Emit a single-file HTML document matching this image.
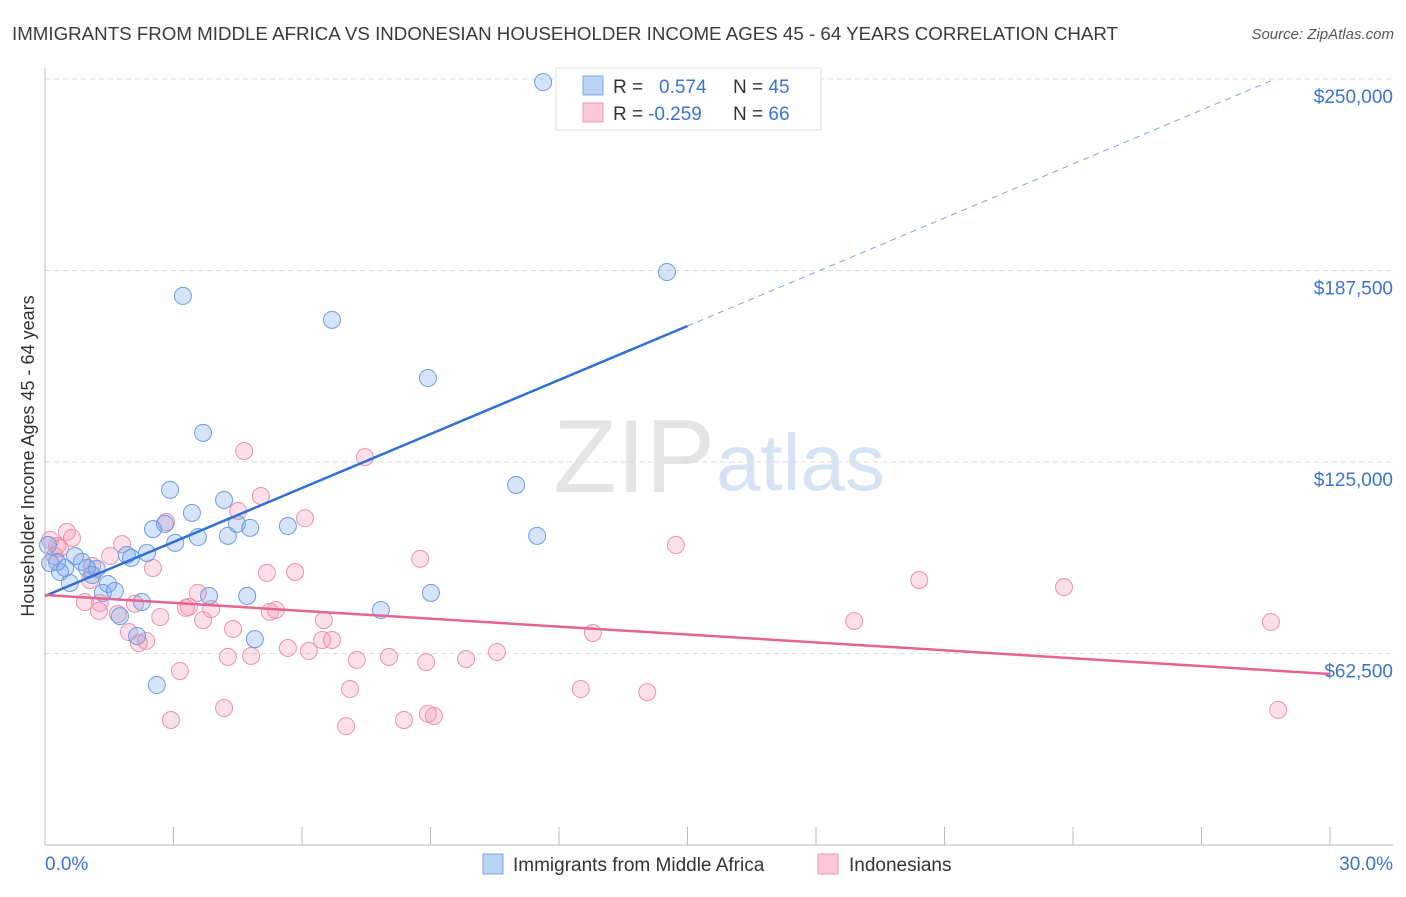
<!DOCTYPE html>
<html><head><meta charset="utf-8"><style>
body{margin:0;background:#fff;font-family:"Liberation Sans",sans-serif}
svg text{font-family:"Liberation Sans",sans-serif}
</style></head><body>
<svg id="c" width="1406" height="892">
<text x="12" y="40" font-size="18" fill="#3a3a3a" textLength="1106" lengthAdjust="spacingAndGlyphs">IMMIGRANTS FROM MIDDLE AFRICA VS INDONESIAN HOUSEHOLDER INCOME AGES 45 - 64 YEARS CORRELATION CHART</text>
<text x="1394" y="39" font-size="15" fill="#555" text-anchor="end" font-style="italic">Source: ZipAtlas.com</text>
<text x="715" y="492" font-size="104" fill="#e4e4e4" text-anchor="end" font-family="Liberation Serif">ZIP</text>
<text x="716" y="490" font-size="80" fill="#d6e3f5">atlas</text>
<g id="grid"></g><g id="axes"></g><g id="pts"></g><g id="lines"></g>
<text transform="translate(34,456) rotate(-90)" font-size="18" fill="#333" text-anchor="middle">Householder Income Ages 45 - 64 years</text>
<g>
<rect x="556" y="68" width="265" height="62" fill="#fff" stroke="#ddd"/>
<rect x="583" y="76" width="20" height="19" fill="#b9d3f5" stroke="#7aa7e6"/>
<rect x="583" y="103" width="20" height="19" fill="#fcc8d7" stroke="#ec9ab3"/>
<text x="613" y="93" font-size="19" fill="#333">R = <tspan x="659" fill="#3b73d1">0.574</tspan><tspan x="733" fill="#333">N = </tspan><tspan fill="#3b73d1">45</tspan></text>
<text x="613" y="120" font-size="19" fill="#333">R = <tspan x="648" fill="#3b73d1">-0.259</tspan><tspan x="733" fill="#333">N = </tspan><tspan fill="#3b73d1">66</tspan></text>
</g>
<g>
<rect x="483" y="854" width="20" height="20" fill="#b9d3f5" stroke="#7aa7e6"/>
<text x="513" y="871" font-size="19" fill="#333">Immigrants from Middle Africa</text>
<rect x="818" y="854" width="20" height="20" fill="#fcc8d7" stroke="#ec9ab3"/>
<text x="849" y="871" font-size="19" fill="#333">Indonesians</text>
</g>
</svg>
<script>
const blueX=[11.63,14.52,3.22,6.70,8.94,3.69,2.92,11.00,11.49,4.18,3.43,2.80,2.52,4.48,4.79,5.67,3.04,3.57,4.27,2.38,1.91,2.01,0.70,0.86,1.21,0.47,0.28,0.35,0.58,1.47,1.35,1.63,2.26,4.72,3.83,9.01,7.84,1.75,2.15,4.90,2.61,0.98,0.12,0.07,1.10];
const blueY=[249.0,187.0,179.2,171.4,152.4,134.5,115.9,117.5,100.9,112.6,108.4,104.8,103.1,104.8,103.5,104.1,98.6,100.5,100.9,95.3,94.7,93.7,94.3,92.4,90.1,90.4,92.4,89.1,85.5,85.2,82.3,82.9,79.3,81.3,81.3,82.3,76.7,74.7,68.2,67.2,52.2,90.4,92.0,97.9,88.1];
const pinkX=[4.65,7.47,5.04,6.07,2.83,4.51,0.51,0.63,0.28,0.12,0.23,0.35,1.52,1.80,14.73,8.76,2.52,5.18,5.84,20.41,23.79,1.05,3.57,0.93,1.28,2.10,3.29,3.88,3.36,1.26,2.69,5.39,5.25,1.70,3.69,6.51,4.39,18.89,28.62,12.79,1.96,2.36,2.19,6.47,6.70,5.67,6.16,10.55,4.27,4.81,7.28,8.03,8.90,9.83,3.15,7.12,12.51,14.06,4.18,2.94,8.38,8.94,9.08,7.03,28.79,1.10];
const pinkY=[128.6,126.6,113.9,106.7,105.4,109.0,102.2,100.2,97.6,99.6,94.3,96.9,94.3,98.2,97.9,93.4,90.4,88.8,89.1,86.5,84.2,86.5,82.3,79.3,79.0,78.7,77.4,77.0,77.7,76.4,74.4,76.7,76.1,75.4,73.4,73.4,70.5,73.1,72.8,69.2,69.5,66.6,65.9,66.9,66.9,64.3,63.3,63.0,61.4,61.7,60.4,61.4,59.7,60.7,56.8,50.9,50.9,49.9,44.7,40.8,40.8,42.8,42.1,38.8,44.1,91.1];
const yTicks=[62.5,125,187.5,250];
const yTickLabels=["$62,500","$125,000","$187,500","$250,000"];
const xTicks=[0,3,6,9,12,15,18,21,24,27,30];
const blueTrend=[81.27,5.874];
const pinkTrend=[81.59,-0.8594];
const NS='http://www.w3.org/2000/svg';
const xs=v=>45+v*(1285/30);
const ys=v=>845-v*(191.5/62.5);
function mk(t,a,p){const e=document.createElementNS(NS,t);for(const k in a)e.setAttribute(k,a[k]);document.getElementById(p).appendChild(e);return e;}
yTicks.forEach((v,i)=>{
 const g=mk('line',{x1:45,x2:1393,y1:ys(v),y2:ys(v),stroke:'#ddd','stroke-dasharray':'5,4'},'grid');
 
 
 const t=mk('text',{x:1393,y:ys(v)+24,'font-size':19,fill:'#3b73d1','text-anchor':'end'},'grid');
 t.textContent=yTickLabels[i];
 
 
});
let a=mk('line',{x1:45,x2:45,y1:68,y2:845,stroke:'#bbb'},'axes');


a=mk('line',{x1:45,x2:1393,y1:845,y2:845,stroke:'#bbb'},'axes');


xTicks.forEach(v=>{const l=mk('line',{x1:xs(v),x2:xs(v),y1:827,y2:845,stroke:'#bbb'},'axes');
 
 });
let t=mk('text',{x:45,y:870,'font-size':19,fill:'#3b73d1'},'axes');t.textContent='0.0%';


t=mk('text',{x:1393,y:870,'font-size':19,fill:'#3b73d1','text-anchor':'end'},'axes');t.textContent='30.0%';


pinkX.forEach((x,i)=>{const c=mk('circle',{cx:xs(x),cy:ys(pinkY[i]),r:8.5,fill:'rgba(244,150,178,0.3)',stroke:'#e993ae','stroke-width':1},'pts');
 
 });
blueX.forEach((x,i)=>{const c=mk('circle',{cx:xs(x),cy:ys(blueY[i]),r:8.5,fill:'rgba(120,165,235,0.3)',stroke:'#6d9de0','stroke-width':1},'pts');
 
 });
const bx2=(250-blueTrend[0])/blueTrend[1];
let l=mk('line',{x1:xs(0),y1:ys(blueTrend[0]),x2:xs(15),y2:ys(blueTrend[0]+15*blueTrend[1]),stroke:'#2f6fd6','stroke-width':2.5},'lines');


l=mk('line',{x1:xs(15),y1:ys(blueTrend[0]+15*blueTrend[1]),x2:xs(bx2),y2:ys(250),stroke:'#7aa2e0','stroke-width':1,'stroke-dasharray':'6,5'},'lines');


l=mk('line',{x1:xs(0),y1:ys(pinkTrend[0]),x2:xs(30),y2:ys(pinkTrend[0]+30*pinkTrend[1]),stroke:'#e5638f','stroke-width':2.5},'lines');


</script>
</body></html>
